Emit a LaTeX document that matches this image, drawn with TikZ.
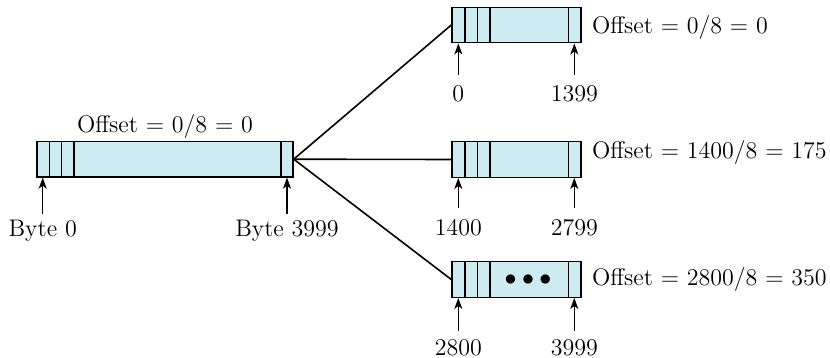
\documentclass[tikz,border=0pt]{standalone}
\usetikzlibrary{positioning,arrows.meta}
\definecolor{fragfill}{RGB}{205,235,241}
\tikzset{
	frag/.style={rectangle,draw=black,fill=fragfill,line width=0.7pt,minimum height=17.75pt,inner sep=0pt},
	lbl/.style={inner sep=0pt,anchor=base,font=\fontsize{12}{14}\selectfont},
	ptr/.style={-{Stealth[length=5.5pt,width=4pt,inset=1.5pt]},line width=0.7pt}
}
\begin{document}
\begin{tikzpicture}[x=0.5pt,y=-0.5pt]
	\useasboundingbox (0,0) rectangle (830,358);
	
	% original datagram
	\node[frag,minimum width=128pt] (main) at (165,159.2) {};
	\foreach \x in {49.3,61.7,74,281}
		\draw[line width=0.7pt] (\x,141.7) -- (\x,176.7);
	
	% fragments
	\node[frag,minimum width=64.5pt] (f1) at (516.5,25) {};
	\node[frag,minimum width=64.5pt] (f2) at (516.5,159.5) {};
	\node[frag,minimum width=64.5pt] (f3) at (516.5,279.5) {};
	\foreach \y in {25,159.5,279.5}
		\foreach \x in {465,477.7,490,568.7}
			\draw[line width=0.7pt] (\x,\y-17.75) -- (\x,\y+17.75);
	\node[inner sep=0pt,font=\fontsize{12}{14}\selectfont] (dots) at (528,280) {$\bullet\bullet\bullet$};
	
	\draw[line width=0.8pt] (main.east) -- (f1.west);
	\draw[line width=0.8pt] (main.east) -- (f2.west);
	\draw[line width=0.8pt] (main.east) -- (f3.west);
	
	% labels
	\node[lbl] (off0) at (165,132.3) {Offset = 0/8 = 0};
	\node[lbl] (b0) at (42.7,236.7) {Byte 0};
	\node[lbl] (b3999) at (287,236.7) {Byte 3999};
	
	\node[lbl,anchor=base west] (off1) at (591.7,34) {Offset = 0/8 = 0};
	\node[lbl] (s1) at (458.3,101.7) {0};
	\node[lbl] (e1) at (574.3,101.7) {1399};
	
	\node[lbl,anchor=base west] (off2) at (591.7,159) {Offset = 1400/8 = 175};
	\node[lbl] (s2) at (458.3,235) {1400};
	\node[lbl] (e2) at (574.3,235) {2799};
	
	\node[lbl,anchor=base west] (off3) at (591.7,285) {Offset = 2800/8 = 350};
	\node[lbl] (s3) at (458.3,355) {2800};
	\node[lbl] (e3) at (574.3,355) {3999};
	
	% pointers
	\draw[ptr] ([yshift=3pt]b0.north) -- (b0.north |- main.south);
	\draw[ptr] ([yshift=3pt]b3999.north) -- (b3999.north |- main.south);
	\draw[ptr] ([yshift=5pt]s1.north) -- (s1.north |- f1.south);
	\draw[ptr] ([yshift=5pt]e1.north) -- (e1.north |- f1.south);
	\draw[ptr] ([yshift=5pt]s2.north) -- (s2.north |- f2.south);
	\draw[ptr] ([yshift=5pt]e2.north) -- (e2.north |- f2.south);
	\draw[ptr] ([yshift=4pt]s3.north) -- (s3.north |- f3.south);
	\draw[ptr] ([yshift=4pt]e3.north) -- (e3.north |- f3.south);
\end{tikzpicture}
\end{document}
